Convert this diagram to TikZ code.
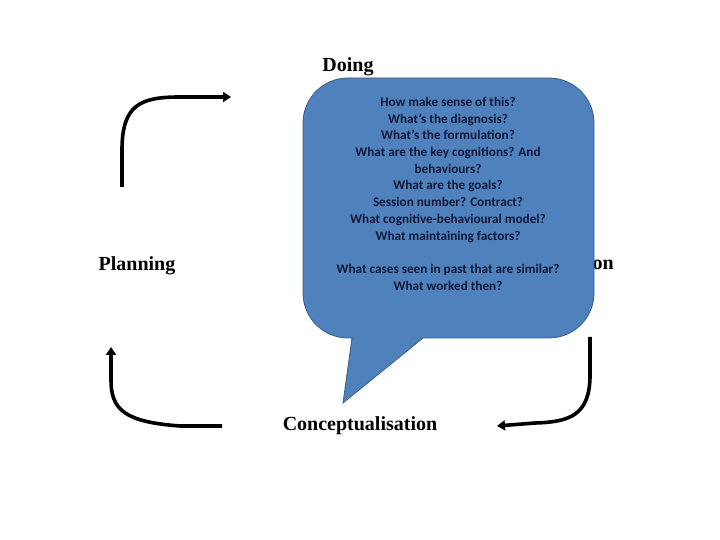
\documentclass[tikz,border=0pt]{standalone}
\usepackage{fontspec}
\setmainfont{Liberation Serif}
\newfontfamily\calloutfont{Carlito}
\usetikzlibrary{arrows.meta}
\definecolor{calloutfill}{HTML}{4F81BD}
\definecolor{calloutedge}{HTML}{385D8A}
\definecolor{callouttext}{HTML}{141A38}
\begin{document}
\begin{tikzpicture}[x=1pt,y=1pt,
  stagelabel/.style={font=\fontsize{20}{24}\selectfont\bfseries, inner sep=0pt, anchor=base},
  cyclearrow/.style={line width=3.6pt, -{Triangle[length=8pt,width=10pt]}},
  calloutbox/.style={fill=calloutfill, draw=calloutedge, line width=0.8pt},
  callouttxt/.style={font=\calloutfont\bfseries\fontsize{13.2}{16.7}\selectfont, text=callouttext, align=center, inner sep=0pt}]
\useasboundingbox (0,0) rectangle (720,540);

% labels
\node[stagelabel] (doing) at (348,468) {Doing};
\node[stagelabel] (planning) at (137,269) {Planning};
\node[stagelabel] (concept) at (360,109) {Conceptualisation};
\node[stagelabel, anchor=base east] (reflection) at (614,270) {on};

% callout
\draw[calloutbox] (352,202) -- (343,137) -- (423,202) -- (549,202)
  arc[start angle=-90,end angle=0,radius=45pt] -- (594,417)
  arc[start angle=0,end angle=90,radius=45pt] -- (348,462)
  arc[start angle=90,end angle=180,radius=45pt] -- (303,247)
  arc[start angle=180,end angle=270,radius=45pt] -- cycle;
\node[callouttxt, anchor=north] (questions) at (448,443) {How make sense of this?\\
What’s the diagnosis?\\
What’s the formulation?\\
What are the key cognitions? And\\
behaviours?\\
What are the goals?\\
Session number? Contract?\\
What cognitive-behavioural model?\\
What maintaining factors?\\[16.7pt]
What cases seen in past that are similar?\\
What worked then?};

% arrows
\coordinate (a1s) at (122,353);
\coordinate (a1e) at (231,443);
\draw[cyclearrow] (a1s) -- (122,390) .. controls (122,435) and (140,443) .. (180,443) -- (a1e);

\coordinate (a2s) at (222,114);
\coordinate (a2e) at (111,193);
\draw[cyclearrow] (a2s) -- (180,114) .. controls (125,118) and (111,130) .. (111,160) -- (a2e);

\coordinate (a3s) at (590,203);
\coordinate (a3e) at (497,114);
\draw[cyclearrow] (a3s) -- (590,165) .. controls (590,125) and (570,118) .. (535,117) -- (a3e);
\end{tikzpicture}
\end{document}
